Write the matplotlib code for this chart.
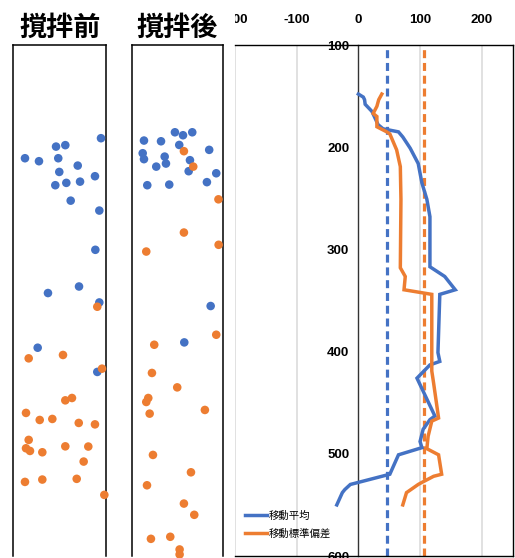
import matplotlib
matplotlib.use("Agg")
import matplotlib.pyplot as plt
from matplotlib.transforms import Bbox

plt.rcParams["axes.unicode_minus"] = False

BLUE = "#4472C4"
ORANGE = "#ED7D31"

# ---- data ----
panel_titles = ["撹拌前", "撹拌後"]

# panel 1 (before) : horizontal position (0-100 %), depth
before_blue_x = [94.6, 46.1, 56.1, 12.6, 27.7, 48.5, 69.5, 49.6, 88.1, 72.0, 57.2, 45.3, 61.9, 92.8,
                 88.5, 70.9, 37.4, 92.8, 26.3, 90.6]
before_blue_d = [191.2, 199.4, 198.0, 210.8, 213.7, 210.8, 218.0, 224.2, 228.4, 233.7, 234.9, 237.2, 252.3, 262.0,
                 300.4, 336.3, 342.7, 351.9, 396.2, 419.9]
before_orange_x = [90.6, 16.6, 53.6, 95.7, 56.1, 63.3, 13.7, 28.5, 42.1, 70.6, 88.1, 16.6, 13.7, 18.0,
                   31.3, 56.1, 80.9, 75.9, 12.6, 31.3, 68.4, 98.2]
before_orange_d = [356.1, 406.6, 403.3, 416.7, 447.7, 445.4, 460.0, 466.9, 465.9, 469.8, 471.2, 486.4, 494.6, 497.2,
                   498.5, 492.7, 492.9, 507.6, 527.5, 525.2, 524.5, 540.2]

# panel 2 (after)
after_blue_x = [13.4, 32.0, 47.2, 56.0, 66.1, 51.9, 84.6, 12.0, 13.4, 36.0, 37.4, 26.8, 63.6, 62.2,
                92.3, 82.1, 17.0, 41.0, 86.2, 57.4]
after_blue_d = [193.5, 194.2, 185.4, 188.3, 185.4, 197.8, 202.6, 205.9, 211.7, 209.2, 216.0, 219.0, 212.7, 223.5,
                225.5, 234.2, 237.2, 236.6, 355.4, 391.0]
after_orange_x = [57.0, 67.2, 94.7, 57.0, 94.9, 15.9, 92.3, 24.6, 22.1, 49.7, 18.1, 15.9, 19.6, 79.9,
                  23.2, 64.7, 16.7, 57.0, 68.3, 21.0, 42.1, 52.3, 52.3]
after_orange_d = [203.9, 219.0, 251.0, 283.5, 295.5, 302.1, 383.5, 393.3, 420.9, 435.0, 445.4, 449.3, 460.7, 457.1,
                  501.1, 518.1, 530.8, 548.7, 559.7, 583.2, 581.2, 593.6, 598.5]

# right chart: moving average / moving std vs depth
ma_vals = [0, 8, 10, 11, 22, 32, 40, 65, 72, 84, 97, 103, 111, 116, 116, 140, 157, 132, 129, 132, 116, 95,
           124, 116, 105, 100, 103, 84, 65, 51, -13, -22, -26, -35]
ma_depth = [148, 151, 153.5, 158, 165, 178, 182, 185, 190, 201, 216, 235, 251, 268, 317, 326.5, 339.5, 344,
            401, 409.6, 413, 426, 463, 466.6, 476, 488, 494, 497.5, 501, 520, 530, 535, 538, 550]
sd_vals = [38, 33, 30, 24, 30, 30, 46, 51, 62, 68, 69, 68, 76, 74, 119, 119, 122, 130, 119, 113, 111, 130,
           135, 122, 103, 97, 78, 72]
sd_depth = [148, 153.5, 160, 167, 170, 180, 185, 187, 202.6, 219, 251, 318, 326.5, 339.5, 344, 419, 431, 465,
            468, 483, 495, 501, 520, 522, 528, 530, 538, 550]
ma_mean = 47
sd_mean = 107
legend_labels = ["移動平均", "移動標準偏差"]
x_ticks = [-200, -100, 0, 100, 200]
y_ticks = [100, 200, 300, 400, 500, 600]

# ---- figure ----
W, H = 515, 558
fig = plt.figure(figsize=(W / 100, H / 100), dpi=100)
fig.patch.set_facecolor("white")

top_px, bot_px = 45, 556


def fax(x0, x1):
    return fig.add_axes([x0 / W, (H - bot_px) / H, (x1 - x0) / W, (bot_px - top_px) / H])


cjk = ["Noto Sans CJK JP", "DejaVu Sans"]

panels = [
    (13.3, 106.0, before_blue_x, before_blue_d, before_orange_x, before_orange_d),
    (131.7, 223.3, after_blue_x, after_blue_d, after_orange_x, after_orange_d),
]
for (x0, x1, bx, bd, ox, od), title in zip(panels, panel_titles):
    ax = fax(x0, x1)
    ax.set_xlim(0, 100)
    ax.set_ylim(600, 100)
    ax.set_xticks([])
    ax.set_yticks([])
    for s in ["left", "right", "top"]:
        ax.spines[s].set_linewidth(1.1)
        ax.spines[s].set_color("black")
    ax.spines["bottom"].set_visible(False)
    ax.scatter(bx, bd, s=38, color=BLUE, edgecolors="none", clip_on=False, zorder=3)
    ax.scatter(ox, od, s=38, color=ORANGE, edgecolors="none", clip_on=False, zorder=3)
    ax.annotate(title, xy=(0.5, 1.0), xycoords="axes fraction", xytext=(0, 12.6),
                textcoords="offset points", ha="center", va="center",
                fontsize=19.5, fontweight="bold", family=cjk)

# right chart
ax = fax(235, 512.6)
ax.set_xlim(-200, 250)
ax.set_ylim(600, 100)
for g in [-200, -100, 100, 200]:
    ax.axvline(g, color="#d9d9d9", lw=1.1, zorder=0)
ax.plot(ma_vals, ma_depth, color=BLUE, lw=2.5, zorder=3, label=legend_labels[0], solid_joinstyle="miter")
ax.plot(sd_vals, sd_depth, color=ORANGE, lw=2.5, zorder=3, label=legend_labels[1], solid_joinstyle="miter")
ax.axvline(ma_mean, color=BLUE, lw=2.3, dashes=(2.5, 1.5), dash_capstyle="butt", zorder=2)
ax.axvline(sd_mean, color=ORANGE, lw=2.3, dashes=(2.5, 1.5), dash_capstyle="butt", zorder=2)

ax.spines["left"].set_position(("data", 0))
ax.spines["left"].set_linewidth(1.0)
ax.spines["left"].set_color("#333333")
for s in ["top", "right", "bottom"]:
    ax.spines[s].set_linewidth(1.0)
    ax.spines[s].set_color("black")

ax.xaxis.tick_top()
ax.set_xticks(x_ticks)
ax.set_yticks(y_ticks)
ax.tick_params(axis="x", length=0, pad=13.5, colors="black")
ax.tick_params(axis="y", length=0, pad=6.5, colors="black")
for lbl in ax.get_xticklabels() + ax.get_yticklabels():
    lbl.set_fontfamily("Liberation Sans")
    lbl.set_fontweight("bold")
    lbl.set_fontsize(9.5)

clip = Bbox.from_extents(235, 0, W, H)
for lbl in ax.get_xticklabels():
    lbl.set_clip_box(clip)
    lbl.set_clip_on(True)

leg = ax.legend(loc="center left", bbox_to_anchor=(2.45, 0.33), bbox_transform=fig.dpi_scale_trans,
                frameon=False, borderpad=0, borderaxespad=0, handlelength=2.1, handletextpad=0.2,
                labelspacing=0.75, prop={"family": cjk, "size": 7.5})

fig.savefig("out.png", dpi=100)
